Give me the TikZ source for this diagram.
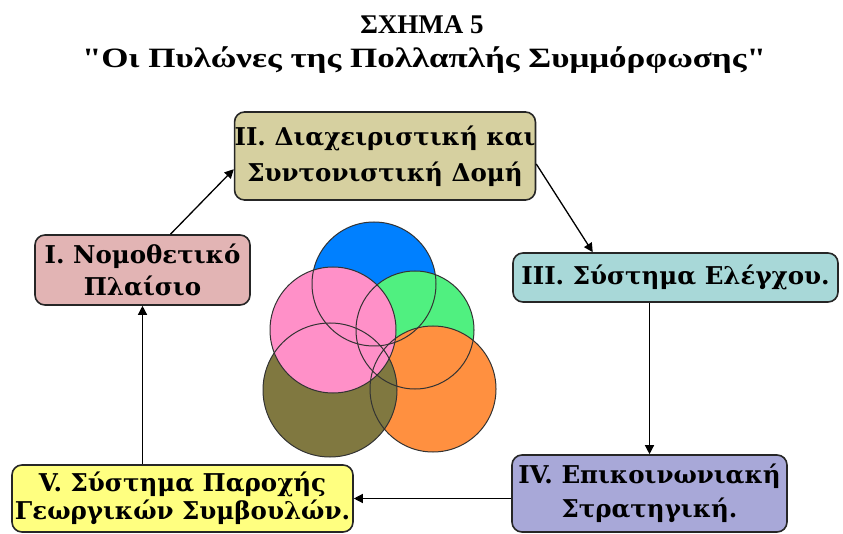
\documentclass[tikz,border=0pt]{standalone}
\usepackage{fontspec}
\setmainfont{Liberation Serif}
\newfontfamily\widefont[FakeStretch=1.25]{Liberation Serif}
\newfontfamily\boxfont{DejaVu Serif}
\usetikzlibrary{arrows.meta}

\definecolor{pinkbox}{RGB}{226,180,180}
\definecolor{khakibox}{RGB}{214,208,160}
\definecolor{tealbox}{RGB}{168,216,216}
\definecolor{lilacbox}{RGB}{168,168,216}
\definecolor{yellowbox}{RGB}{255,255,128}
\definecolor{cblue}{RGB}{0,128,255}
\definecolor{cgreen}{RGB}{80,240,128}
\definecolor{cpink}{RGB}{255,144,200}
\definecolor{colive}{RGB}{128,120,64}
\definecolor{corange}{RGB}{255,144,64}

\tikzset{
  pillar/.style={draw=black!85,line width=1.6pt,rounded corners=10pt,align=center,
    font=\boxfont\bfseries\fontsize{24.5}{#1}\selectfont,inner sep=0pt},
  pillar/.default=32,
  link/.style={line width=1.3pt,-{Triangle[length=9pt,width=9pt]}},
  ring/.style={draw=black!80,line width=1pt}
}

\begin{document}
\begin{tikzpicture}[x=1pt,y=-1pt]
\useasboundingbox (0,0) rectangle (843,534);

% title
\node[font=\bfseries\fontsize{27}{30}\selectfont] (title) at (422,25) {ΣΧΗΜΑ 5};
\node[font=\widefont\bfseries\fontsize{28}{30}\selectfont] (subtitle) at (424,60) {\symbol{34}Οι Πυλώνες της Πολλαπλής Συμμόρφωσης\symbol{34}};

% legal framework
\node[pillar,fill=pinkbox,minimum width=215pt,minimum height=70pt] (law) at (142.5,270) {I. Νομοθετικό\\Πλαίσιο};

% management structure
\node[pillar=36,fill=khakibox,minimum width=300pt,minimum height=88pt] (mgmt) at (385,156) {II. Διαχειριστική και\\Συντονιστική Δομή};

% control system
\node[pillar,fill=tealbox,minimum width=325pt,minimum height=49pt] (ctrl) at (675.5,277.5) {III. Σύστημα Ελέγχου.};

% communication strategy
\node[pillar=34,fill=lilacbox,minimum width=275pt,minimum height=77pt] (comm) at (649.5,493.5) {IV. Επικοινωνιακή\\Στρατηγική.};

% advisory system
\node[pillar=28,fill=yellowbox,minimum width=341pt,minimum height=67pt] (advice) at (182.5,498.5) {V. Σύστημα Παροχής\\Γεωργικών Συμβουλών.};

\draw[link] (law.52) -- (mgmt.185);
\draw[link] (mgmt.-3) -- (ctrl.163);
\draw[link] (ctrl.south -| comm.north) -- (comm.north);
\draw[link] (comm.west |- advice.east) -- (advice.east);
\draw[link] (advice.north -| law.south) -- (law.south);

% overlapping circles
\fill[cblue] (374,284) circle[radius=62pt];
\fill[cgreen] (415,330) circle[radius=59pt];
\fill[corange] (433,389) circle[radius=63pt];
\fill[colive] (330,390) circle[radius=67pt];
\fill[cpink] (333,330) circle[radius=63pt];
\draw[ring] (374,284) circle[radius=62pt];
\draw[ring] (415,330) circle[radius=59pt];
\draw[ring] (433,389) circle[radius=63pt];
\draw[ring] (330,390) circle[radius=67pt];
\draw[ring] (333,330) circle[radius=63pt];

\end{tikzpicture}
\end{document}
